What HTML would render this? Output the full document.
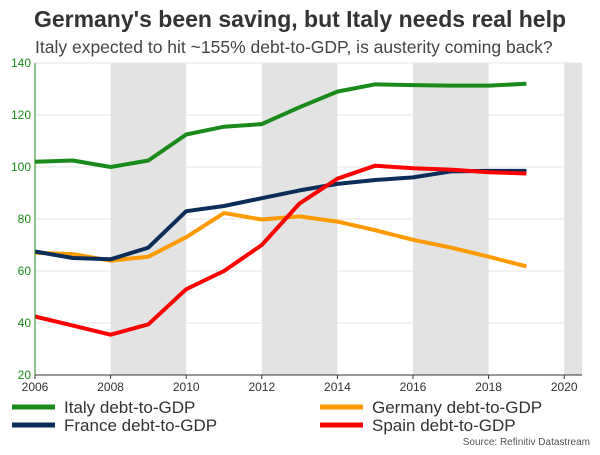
<!DOCTYPE html>
<html><head><meta charset="utf-8"><style>
body{margin:0;background:#fff;font-family:"Liberation Sans",Arial,sans-serif}
svg text{font-family:"Liberation Sans",Arial,sans-serif}
</style></head><body>
<svg id="c" width="600" height="450">
<text x="300" y="27" text-anchor="middle" font-size="23" font-weight="bold" fill="#333">Germany's been saving, but Italy needs real help</text>
<text x="35" y="53" font-size="17.5" fill="#444">Italy expected to hit ~155% debt-to-GDP, is austerity coming back?</text>
<g id="bands"></g><g id="grid"></g><g id="lines"></g><g id="axes"></g>
<g>
<line x1="12" y1="407" x2="55" y2="407" stroke="#1a8a1a" stroke-width="5"/>
<text x="64" y="413" font-size="17" fill="#333">Italy debt-to-GDP</text>
<line x1="12" y1="425" x2="55" y2="425" stroke="#0a2d5a" stroke-width="5"/>
<text x="64" y="431" font-size="17" fill="#333">France debt-to-GDP</text>
<line x1="320" y1="407" x2="363" y2="407" stroke="#ff9a00" stroke-width="5"/>
<text x="372" y="413" font-size="17" fill="#333">Germany debt-to-GDP</text>
<line x1="320" y1="425" x2="363" y2="425" stroke="#ff0000" stroke-width="5"/>
<text x="372" y="431" font-size="17" fill="#333">Spain debt-to-GDP</text>
</g>
<text x="590" y="445" text-anchor="end" font-size="10" fill="#555">Source: Refinitiv Datastream</text>
</svg>
<script>
const years=[2006,2007,2008,2009,2010,2011,2012,2013,2014,2015,2016,2017,2018,2019];
const italy=[102,102.5,100,102.5,112.5,115.5,116.5,123,129,131.8,131.5,131.3,131.3,132];
const france=[67.5,65,64.5,69,83,85,88,91,93.5,95,96,98.3,98.5,98.5];
const germany=[67,66.5,64,65.5,73,82.3,79.8,81,79,75.7,72,69,65.5,61.8];
const spain=[42.5,39,35.5,39.5,53,60,70,86,95.5,100.5,99.5,99,98,97.5];
const yTicks=[20,40,60,80,100,120,140];
const xTicks=[2006,2008,2010,2012,2014,2016,2018,2020];
const bandStarts=[2008,2012,2016,2020];
const NS="http://www.w3.org/2000/svg";
const X0=35,X1=582,Y0=375,Y1=63;
const x=v=>X0+(v-2006)*37.8;
const y=v=>Y0-(v-20)*(Y0-Y1)/120;
function mk(t,a,p){const e=document.createElementNS(NS,t);for(const k in a)e.setAttribute(k,a[k]);document.getElementById(p).appendChild(e);return e;}
bandStarts.forEach(b=>{const r=mk('rect',{x:x(b),y:Y1,width:Math.min(x(b+2),X1)-x(b),height:Y0-Y1,fill:'#e3e3e3'},'bands');

});
yTicks.forEach(t=>{const l=mk('line',{x1:X0,x2:X1,y1:y(t),y2:y(t),stroke:'#e6e6e6'},'grid');


const tx=mk('text',{x:X0-4,y:y(t)+4,'text-anchor':'end','font-size':12,fill:'#1a8a1a'},'axes');tx.textContent=t;

});
xTicks.forEach(t=>{const tx=mk('text',{x:x(t),y:Y0+16,'text-anchor':'middle','font-size':12,fill:'#333'},'axes');tx.textContent=t;


mk('line',{x1:x(t),x2:x(t),y1:Y0,y2:Y0+4,stroke:'#333'},'axes');});
const ax=mk('line',{x1:X0,x2:X0,y1:Y1,y2:Y0,stroke:'#1a8a1a'},'axes');


const bx=mk('line',{x1:X0,x2:X1,y1:Y0,y2:Y0,stroke:'#333'},'axes');


[[germany,'#ff9a00','germany'],[france,'#0a2d5a','france'],[italy,'#1a8a1a','italy'],[spain,'#ff0000','spain']].forEach(([d,c,n])=>{
const p=mk('polyline',{points:d.map((v,i)=>x(years[i])+','+y(v)).join(' '),fill:'none',stroke:c,'stroke-width':4,'stroke-linejoin':'round'},'lines');

});
</script>
</body></html>
